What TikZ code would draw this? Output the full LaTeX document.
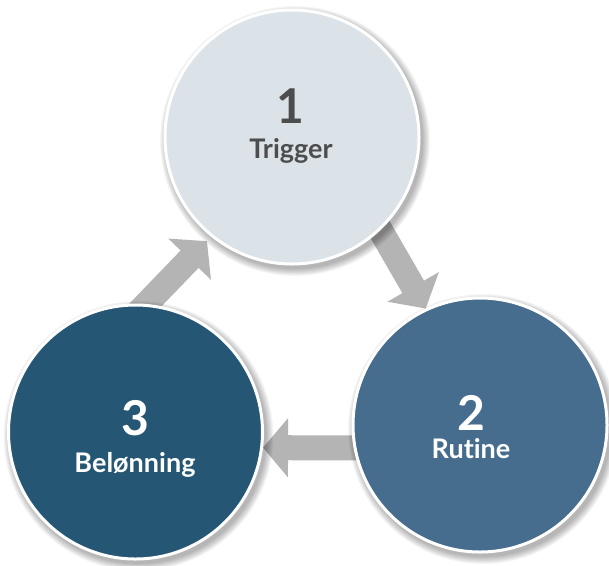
\documentclass[tikz,border=0pt]{standalone}
\usepackage{fontspec}
\setmainfont{Lato}[Ligatures={NoCommon}]
\usetikzlibrary{arrows.meta}
\pgfdeclarelayer{background}
\pgfdeclarelayer{shadow}
\pgfsetlayers{background,shadow,main}
\definecolor{topfill}{HTML}{DBE3E8}
\definecolor{midfill}{HTML}{466C8E}
\definecolor{darkfill}{HTML}{255774}
\definecolor{toptext}{HTML}{4D4D4D}
\definecolor{arrgray}{HTML}{B4B4B4}
\begin{document}
\begin{tikzpicture}[x=1pt,y=-1pt,
  circ/.style={circle, draw=white, line width=3pt, minimum size=254pt, inner sep=0pt},
  num/.style={font=\bfseries\fontsize{48}{48}\selectfont, anchor=base},
  lab/.style={font=\bfseries\fontsize{27}{27}\selectfont, anchor=base},
  arr/.style={draw=arrgray, line width=25pt, -{Triangle[length=25pt,width=58pt]}}]
\useasboundingbox (0,0) rectangle (609,565);
% circle centres
\coordinate (p1) at (292,137);
\coordinate (p2) at (480,425);
\coordinate (p3) at (135.5,432);
% shadows
\begin{pgfonlayer}{shadow}
\foreach \p in {p1,p2,p3}{
  \foreach \i in {1,...,10}{
    \fill[black,opacity=0.03] ([shift={(3,4)}]\p) circle[radius={127pt+\i*0.8pt}];
  }
}
\end{pgfonlayer}
% circles
\node[circ, fill=topfill] (c1) at (p1) {};
\node[circ, fill=midfill] (c2) at (p2) {};
\node[circ, fill=darkfill] (c3) at (p3) {};
% texts
\node[num, text=toptext] (n1) at (290,123) {1};
\node[lab, text=toptext] (l1) at (291,158) {Trigger};
\node[num, text=white] (n2) at (471,430) {2};
\node[lab, text=white] (l2) at (471,458) {Rutine};
\node[num, text=white] (n3) at (135,435) {3};
\node[lab, text=white] (l3) at (135,472) {Belønning};
% arrows
\coordinate (t12) at (374,219);
\coordinate (t23) at (380,448);
\coordinate (t31) at (129,322);
\begin{pgfonlayer}{background}
\fill[white] (0,0) rectangle (609,565);
\draw[arr] (t12) -- (c2.115);
\draw[arr] (t23) -- (c3.-7);
\draw[arr, shorten >=6pt] (t31) -- (c1.231);
\end{pgfonlayer}
\end{tikzpicture}
\end{document}
